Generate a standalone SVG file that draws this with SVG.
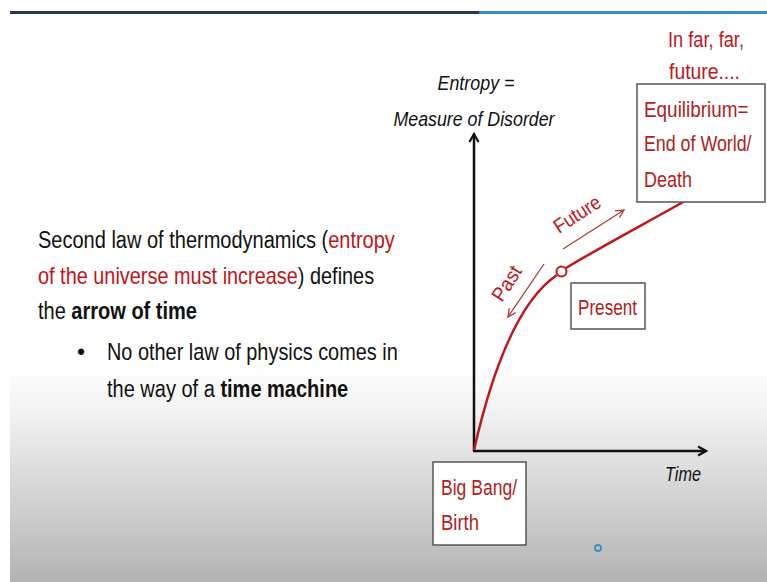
<svg xmlns="http://www.w3.org/2000/svg" width="767" height="582" viewBox="0 0 767 582">
<defs>
<linearGradient id="bg" x1="0" y1="0" x2="0" y2="1">
<stop offset="0" stop-color="#ffffff"/>
<stop offset="0.22" stop-color="#f2f2f2"/>
<stop offset="1" stop-color="#b3b3b3"/>
</linearGradient>
<marker id="ah" viewBox="0 0 12 12" refX="10" refY="6" markerWidth="12" markerHeight="12" orient="auto" markerUnits="userSpaceOnUse">
<path d="M2,1.5 L10,6 L2,10.5" fill="none" stroke="#111" stroke-width="2.2"/>
</marker>
<marker id="ahr" viewBox="0 0 10 10" refX="9" refY="5" markerWidth="10" markerHeight="10" orient="auto" markerUnits="userSpaceOnUse">
<path d="M1,1 L9,5 L1,9" fill="none" stroke="#b03a3a" stroke-width="1.3"/>
</marker>
</defs>
<style>
text{font-family:"Liberation Sans","Noto Sans",sans-serif;}
.blk{fill:#111;}
.red{fill:#c0151b;}
.dred{fill:#b01d22;}
.box{fill:#fff;stroke:#555;stroke-width:1.5;}
.it{font-style:italic;}
</style>
<rect x="0" y="0" width="767" height="582" fill="#fff"/>
<rect x="10" y="365" width="757" height="217" fill="url(#bg)"/>
<rect x="10" y="11" width="469" height="3" fill="#2e3552"/>
<rect x="479" y="11" width="288" height="3" fill="#3a8bc2"/>

<g id="bullets" font-size="23">
<text transform="translate(38,248) scale(0.87,1)" class="blk">Second law of thermodynamics (<tspan class="red">entropy</tspan></text>
<text transform="translate(38,284) scale(0.865,1)" class="red">of the universe must increase<tspan class="blk">) defines</tspan></text>
<text transform="translate(38,319) scale(0.87,1)" class="blk">the <tspan font-weight="bold">arrow of time</tspan></text>
<text x="77" y="360" class="blk">•</text>
<text transform="translate(107,360) scale(0.865,1)" class="blk">No other law of physics comes in</text>
<text transform="translate(107,397) scale(0.87,1)" class="blk">the way of a <tspan font-weight="bold">time machine</tspan></text>
</g>

<g id="axes" fill="none" stroke="#111" stroke-width="2.5">
<line x1="474" y1="451" x2="474" y2="134" marker-end="url(#ah)"/>
<line x1="473" y1="451" x2="706" y2="451" marker-end="url(#ah)"/>
</g>

<g id="connectors" fill="none">
<path d="M474,450 C494,362 520,300 557,275" stroke="#c0151b" stroke-width="2.5"/>
<path d="M566,268 C602,246 650,221 692,197" stroke="#c0151b" stroke-width="2.5"/>
<line x1="563" y1="249" x2="624" y2="210" stroke="#b03a3a" stroke-width="1.3" marker-end="url(#ahr)"/>
<line x1="544" y1="264" x2="508" y2="317" stroke="#b03a3a" stroke-width="1.3" marker-end="url(#ahr)"/>
</g>

<g id="present-point">
<circle cx="561.5" cy="271.5" r="5" fill="#fff" stroke="#c0151b" stroke-width="2"/>
</g>

<g id="y-label" class="blk it" font-size="21" text-anchor="middle">
<text x="476" y="90" textLength="77" lengthAdjust="spacingAndGlyphs">Entropy =</text>
<text x="474" y="126" textLength="161" lengthAdjust="spacingAndGlyphs">Measure of Disorder</text>
</g>

<g id="x-label">
<text x="665" y="481" class="blk it" font-size="21" textLength="36" lengthAdjust="spacingAndGlyphs">Time</text>
</g>

<g id="far-future" class="red" font-size="22">
<text x="668" y="47" textLength="76" lengthAdjust="spacingAndGlyphs">In far, far,</text>
<text x="669" y="79" textLength="71" lengthAdjust="spacingAndGlyphs">future....</text>
</g>

<g id="equilibrium">
<rect class="box" x="637" y="84" width="128" height="118"/>
<text transform="translate(644,117) scale(0.86,1)" class="dred" font-size="22">Equilibrium=</text>
<text transform="translate(644,151) scale(0.81,1)" class="dred" font-size="22">End of World/</text>
<text x="644" y="187" class="dred" font-size="22" textLength="48" lengthAdjust="spacingAndGlyphs">Death</text>
</g>

<g id="present">
<rect class="box" x="571" y="283" width="74" height="46"/>
<text x="578" y="315" class="dred" font-size="22" textLength="59" lengthAdjust="spacingAndGlyphs">Present</text>
</g>

<g id="bigbang">
<rect class="box" x="433" y="462" width="93" height="83"/>
<text x="441" y="495" class="dred" font-size="22" textLength="76" lengthAdjust="spacingAndGlyphs">Big Bang/</text>
<text x="441" y="530" class="dred" font-size="22" textLength="38" lengthAdjust="spacingAndGlyphs">Birth</text>
</g>

<g id="arrow-labels" class="red" font-size="20">
<text transform="translate(559,234) rotate(-33)" textLength="52" lengthAdjust="spacingAndGlyphs">Future</text>
<text transform="translate(502,303) rotate(-57)" textLength="38" lengthAdjust="spacingAndGlyphs">Past</text>
</g>

<circle cx="598" cy="548" r="3" fill="none" stroke="#3c8dc8" stroke-width="1.8"/>
</svg>
